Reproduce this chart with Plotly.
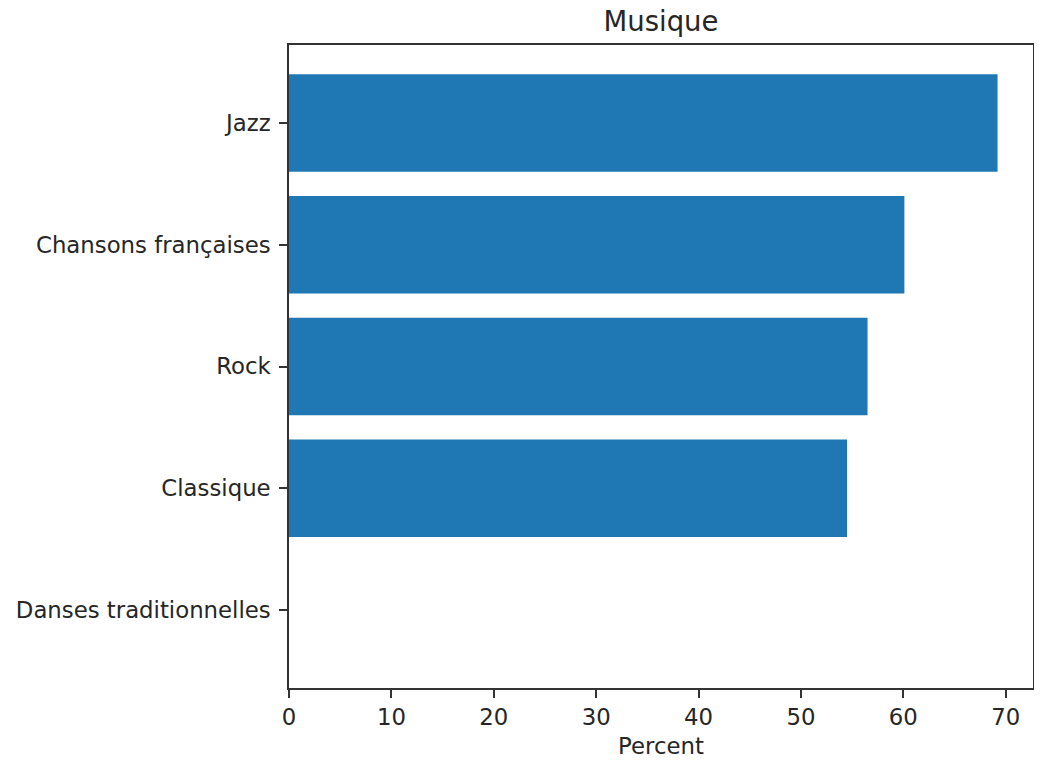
import plotly.graph_objects as go

categories = ["Danses traditionnelles", "Classique", "Rock", "Chansons françaises", "Jazz"]
percent = [0.0, 54.5, 56.5, 60.1, 69.2]
x_ticks = [0, 10, 20, 30, 40, 50, 60, 70]

FONT = "DejaVu Sans"
BAR = "#1f77b4"
SPINE = "#333333"
TEXT = "#262626"

# the page body has an 8px default margin; size the figure to compensate
fig = go.Figure(
    go.Bar(
        y=categories,
        x=percent,
        orientation="h",
        width=0.8,
        marker=dict(color=BAR, line=dict(width=0)),
    )
)

fig.update_layout(
    template="none",
    width=1034,
    height=754,
    margin=dict(l=281, r=9, t=37, b=74, autoexpand=False),
    paper_bgcolor="white",
    plot_bgcolor="white",
    showlegend=False,
    font=dict(family=FONT, size=22.8, color=TEXT),
    title=dict(
        text="Musique",
        x=0.5,
        xref="paper",
        xanchor="center",
        y=1,
        yref="paper",
        yanchor="bottom",
        pad=dict(b=14),
        font=dict(family=FONT, size=27.5, color=TEXT),
    ),
)

fig.update_xaxes(
    automargin=False,
    range=[0, max(percent) * 1.05],
    tickmode="array",
    tickvals=x_ticks,
    ticktext=[str(v) for v in x_ticks],
    ticks="outside",
    ticklen=8,
    tickwidth=1.6,
    tickcolor=SPINE,
    showline=True,
    linecolor=SPINE,
    linewidth=1.6,
    mirror=True,
    showgrid=False,
    zeroline=False,
    title=dict(text="Percent", standoff=9, font=dict(family=FONT, size=22.8, color=TEXT)),
    tickfont=dict(family=FONT, size=22.8, color=TEXT),
)

fig.update_yaxes(
    automargin=False,
    type="category",
    categoryorder="array",
    categoryarray=categories,
    range=[-0.64, len(categories) - 1 + 0.64],
    ticks="outside",
    ticklen=8,
    tickwidth=1.6,
    tickcolor=SPINE,
    showline=True,
    linecolor=SPINE,
    linewidth=1.6,
    mirror=True,
    showgrid=False,
    zeroline=False,
    ticklabelstandoff=4,
    tickfont=dict(family=FONT, size=22.8, color=TEXT),
)

fig.write_html("out.html")
